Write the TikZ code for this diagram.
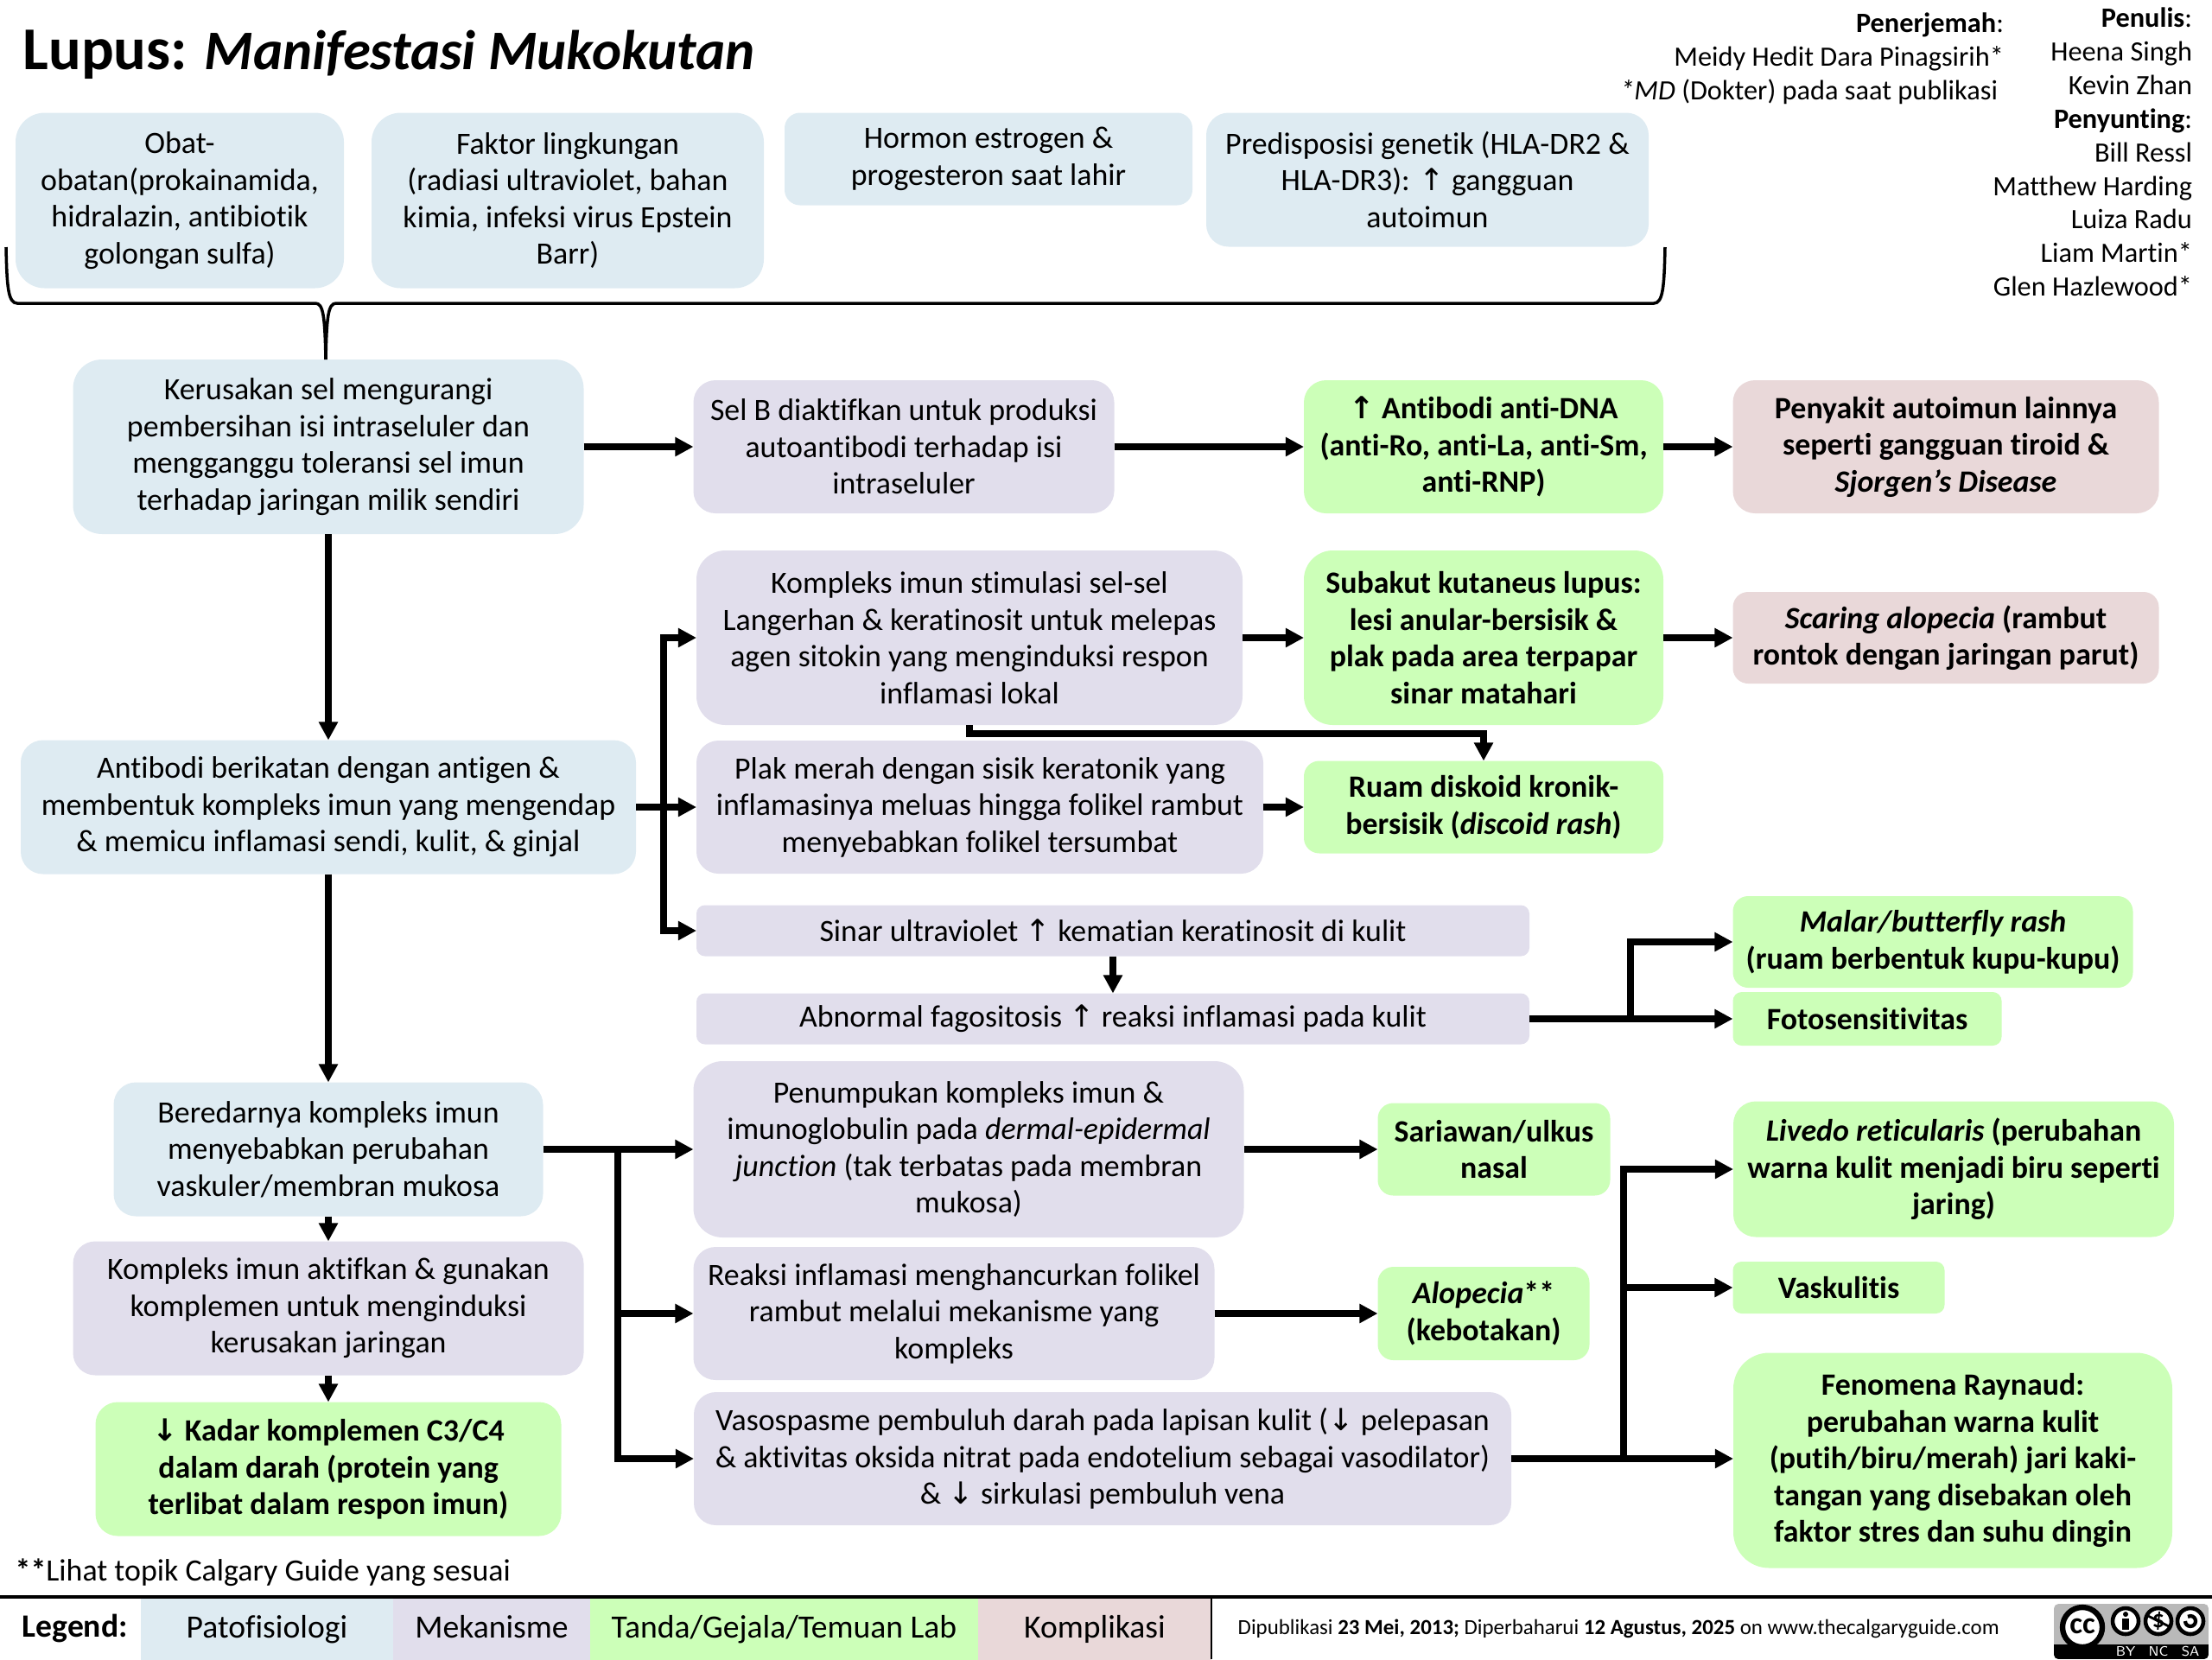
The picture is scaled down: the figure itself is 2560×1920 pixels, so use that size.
\documentclass[tikz,border=0pt]{standalone}
\usepackage{fontspec}
\setmainfont{Carlito}[Ligatures=NoCommon]
\newfontfamily\arrowfont{DejaVu Sans}
\usetikzlibrary{arrows.meta}
\definecolor{patho}{HTML}{DEEBF2}
\definecolor{mech}{HTML}{E1DEEC}
\definecolor{sign}{HTML}{CCFFB8}
\definecolor{comp}{HTML}{E9D8D9}
\newcommand{\arrup}{{\arrowfont\fontsize{10}{12}\selectfont ↑}}
\newcommand{\arrdown}{{\arrowfont\fontsize{10}{12}\selectfont ↓}}
\tikzset{
  sized/.style 2 args={minimum width=#1*0.01cm,minimum height=#2*0.01cm,rounded corners=#2*0.001667cm},
  txt/.style={inner sep=0pt,outer sep=0pt,align=center,font=\fontsize{10.2}{12.1}\selectfont},
  pat/.style={txt,fill=patho},
  mek/.style={txt,fill=mech},
  tnd/.style={txt,fill=sign,font=\fontsize{10.2}{12.1}\selectfont\bfseries},
  kom/.style={txt,fill=comp,font=\fontsize{10.2}{12.1}\selectfont\bfseries},
  leg/.style={txt,text height=8pt,text depth=2.6pt,font=\fontsize{10.7}{13}\selectfont},
  arr/.style={line width=2.2pt,-{Triangle[length=6pt,width=6pt]}},
  crew/.style={inner sep=0pt,outer sep=0pt,align=right,font=\fontsize{9.2}{11.05}\selectfont},
}
\begin{document}
\begin{tikzpicture}[x=0.01cm,y=-0.01cm]
\useasboundingbox (0,0) rectangle (2560,1920);
\node[inner sep=0pt,anchor=base west,font=\fontsize{18.4}{20}\selectfont\bfseries] (title) at (26,80) {{\fontsize{20}{20}\selectfont Lupus:} \textit{Manifestasi Mukokutan}};
\node[crew,anchor=north east] (translator) at (2319,15) {\textbf{Penerjemah}:\\Meidy Hedit Dara Pinagsirih*\\\textit{*MD} (Dokter) pada saat publikasi\kern 2pt};
\node[crew,anchor=north east] (authors) at (2537,9) {\textbf{Penulis}:\\Heena Singh\\Kevin Zhan\\\textbf{Penyunting}:\\Bill Ressl\\Matthew Harding\\Luiza Radu\\Liam Martin*\\Glen Hazlewood*};
% causes
\node[pat,sized={380}{203}] (obat) at (208,232) {Obat-\\obatan(prokainamida,\\hidralazin, antibiotik\\golongan sulfa)};
\node[pat,sized={454}{203}] (faktor) at (657,232) {Faktor lingkungan\\(radiasi ultraviolet, bahan\\kimia, infeksi virus Epstein\\Barr)};
\node[pat,sized={472}{107}] (hormon) at (1144,184) {Hormon estrogen \&\\progesteron saat lahir};
\node[pat,sized={512}{155}] (predis) at (1652,208) {Predisposisi genetik (HLA-DR2 \&\\HLA-DR3): \arrup{} gangguan\\autoimun};
% left column
\node[pat,sized={591}{202}] (kerusakan) at (380,517) {Kerusakan sel mengurangi\\pembersihan isi intraseluler dan\\mengganggu toleransi sel imun\\terhadap jaringan milik sendiri};
\node[pat,sized={712}{155}] (berikatan) at (380,934) {Antibodi berikatan dengan antigen \&\\membentuk kompleks imun yang mengendap\\\& memicu inflamasi sendi, kulit, \& ginjal};
\node[pat,sized={497}{155}] (beredar) at (380,1330) {Beredarnya kompleks imun\\menyebabkan perubahan\\vaskuler/membran mukosa};
\node[mek,sized={591}{155}] (aktif) at (380,1514) {Kompleks imun aktifkan \& gunakan\\komplemen untuk menginduksi\\kerusakan jaringan};
\node[tnd,sized={539}{155}] (kadar) at (380,1700) {\arrdown{} Kadar komplemen C3/C4\\dalam darah (protein yang\\terlibat dalam respon imun)};
% mechanisms
\node[mek,sized={487}{154}] (selb) at (1046,517) {Sel B diaktifkan untuk produksi\\autoantibodi terhadap isi\\intraseluler};
\node[mek,sized={632}{202}] (kompleks) at (1122,738) {Kompleks imun stimulasi sel-sel\\Langerhan \& keratinosit untuk melepas\\agen sitokin yang menginduksi respon\\inflamasi lokal};
\node[mek,sized={656}{154}] (plak) at (1134,934) {Plak merah dengan sisik keratonik yang\\inflamasinya meluas hingga folikel rambut\\menyebabkan folikel tersumbat};
\node[mek,sized={964}{59}] (sinar) at (1288,1077) {Sinar ultraviolet \arrup{} kematian keratinosit di kulit};
\node[mek,sized={964}{59}] (abnormal) at (1288,1179) {Abnormal fagositosis \arrup{} reaksi inflamasi pada kulit};
\node[mek,sized={637}{204}] (penumpukan) at (1121,1330) {Penumpukan kompleks imun \&\\imunoglobulin pada \textit{dermal-epidermal}\\\textit{junction} (tak terbatas pada membran\\mukosa)};
\node[mek,sized={603}{154}] (reaksi) at (1104,1520) {Reaksi inflamasi menghancurkan folikel\\rambut melalui mekanisme yang\\kompleks};
\node[mek,sized={946}{154}] (vaso) at (1276,1688) {Vasospasme pembuluh darah pada lapisan kulit (\arrdown{} pelepasan\\\& aktivitas oksida nitrat pada endotelium sebagai vasodilator)\\\& \arrdown{} sirkulasi pembuluh vena};
% signs
\node[tnd,sized={416}{154}] (antidna) at (1717,517) {\arrup{} Antibodi anti-DNA\\(anti-Ro, anti-La, anti-Sm,\\anti-RNP)};
\node[tnd,sized={416}{202}] (subakut) at (1717,738) {Subakut kutaneus lupus:\\lesi anular-bersisik \&\\plak pada area terpapar\\sinar matahari};
\node[tnd,sized={416}{107}] (ruam) at (1717,934) {Ruam diskoid kronik-\\bersisik (\textit{discoid rash})};
\node[tnd,sized={269}{107}] (sariawan) at (1729,1330) {Sariawan/ulkus\\nasal};
\node[tnd,sized={245}{108}] (alopecia) at (1717,1520) {\textit{Alopecia}**\\(kebotakan)};
\node[tnd,sized={463}{106}] (malar) at (2237,1090) {\textit{Malar/butterfly rash}\\(ruam berbentuk kupu-kupu)};
\node[tnd,sized={311}{62}] (foto) at (2161,1179) {Fotosensitivitas};
\node[tnd,sized={510}{157}] (livedo) at (2261,1353) {\textit{Livedo reticularis} (perubahan\\warna kulit menjadi biru seperti\\jaring)};
\node[tnd,sized={245}{60}] (vaskulitis) at (2128,1490) {Vaskulitis};
\node[tnd,sized={508}{249}] (fenomena) at (2260,1690) {Fenomena Raynaud:\\perubahan warna kulit\\(putih/biru/merah) jari kaki-\\tangan yang disebakan oleh\\faktor stres dan suhu dingin};
% complications
\node[kom,sized={493}{154}] (penyakit) at (2252,517) {Penyakit autoimun lainnya\\seperti gangguan tiroid \&\\\textit{Sjorgen’s Disease}};
\node[kom,sized={493}{106}] (scaring) at (2252,738) {\textit{Scaring alopecia} (rambut\\rontok dengan jaringan parut)};
\coordinate (jA) at (768,934);
\coordinate (jB) at (1887,1179);
\coordinate (jC) at (1879,1688);
\coordinate (jD) at (715,1330);
\coordinate (braceTip) at (377,416);
% brace
\draw[line width=1pt] (7,286) .. controls (8,330) and (9,351) .. (20,351) -- (365,351) .. controls (374,351) and (376,365) .. (braceTip) .. controls (378,365) and (380,351) .. (389,351) -- (1914,351) .. controls (1925,351) and (1926,330) .. (1927,286);
% connectors
\draw[arr] (kerusakan.east) -- (selb.west);
\draw[arr] (selb.east) -- (antidna.west);
\draw[arr] (antidna.east) -- (penyakit.west);
\draw[arr] (kerusakan.south) -- (berikatan.north);
\draw[arr] (berikatan.south) -- (beredar.north);
\draw[arr] (beredar.south) -- (aktif.north);
\draw[arr] (aktif.south) -- (kadar.north);
\draw[arr] (berikatan.east) -- (plak.west);
\draw[arr] (jA) |- (kompleks.west);
\draw[arr] (jA) |- (sinar.west);
\draw[arr] (kompleks.east) -- (subakut.west);
\draw[arr] (subakut.east) -- (scaring.west);
\draw[arr] (kompleks.south) -- ++(0,10) -| (ruam.north);
\draw[arr] (plak.east) -- (ruam.west);
\draw[arr] (sinar.south) -- (abnormal.north);
\draw[arr] (abnormal.east) -- (foto.west);
\draw[arr] (jB) |- (malar.west);
\draw[arr] (beredar.east) -- (penumpukan.west);
\draw[arr] (jD) |- (vaso.west);
\draw[arr] (jD |- reaksi.west) -- (reaksi.west);
\draw[arr] (penumpukan.east) -- (sariawan.west);
\draw[arr] (reaksi.east) -- (alopecia.west);
\draw[arr] (vaso.east) -- (vaso.east -| fenomena.west);
\draw[arr] (jC) |- (livedo.west);
\draw[arr] (jC |- vaskulitis.west) -- (vaskulitis.west);
% footer
\node[inner sep=0pt,anchor=west,font=\fontsize{10.2}{12}\selectfont] (note) at (17,1820) {\textbf{**}Lihat topik Calgary Guide yang sesuai};
\node[inner sep=0pt,anchor=west,font=\fontsize{10.7}{13}\selectfont\bfseries] (legend) at (25,1884) {Legend:};
\node[leg,sized={292}{71},sharp corners,fill=patho] (lgPat) at (309,1885.5) {Patofisiologi};
\node[leg,sized={228}{71},sharp corners,fill=mech] (lgMek) at (569,1885.5) {Mekanisme};
\node[leg,sized={449}{71},sharp corners,fill=sign] (lgTnd) at (907.5,1885.5) {Tanda/Gejala/Temuan Lab};
\node[leg,sized={270}{71},sharp corners,fill=comp] (lgKom) at (1267,1885.5) {Komplikasi};
\draw[line width=1.3pt] (0,1848) -- (2560,1848);
\draw[line width=.8pt] (1402,1848) -- (1402,1920);
\node[inner sep=0pt,anchor=west,font=\fontsize{7.08}{9}\selectfont] (pub) at (1432,1885) {Dipublikasi \textbf{23 Mei, 2013;} Diperbaharui \textbf{12 Agustus, 2025} on www.thecalgaryguide.com};
% licence badge
\begin{scope}
\clip[rounded corners=1.5pt] (2377,1856) rectangle (2556,1920);
\fill[gray!55] (2377,1856) rectangle (2556,1920);
\fill[black] (2377,1903) rectangle (2556,1920);
\end{scope}
\draw[fill=white,line width=1.8pt] (2410,1883) circle (23);
\node[inner sep=0pt,font=\fontsize{10}{10}\selectfont\bfseries] (cc) at (2410,1882) {cc};
\foreach \x/\t in {2460/BY,2498/NC,2535/SA} {
  \draw[fill=white,line width=1.3pt] (\x,1876) circle (15);
  \node[inner sep=0pt,text=white,font=\fontsize{4.5}{5}\selectfont\sffamily] at (\x,1911) {\t};
}
\fill (2460,1868) circle (3);
\fill (2456,1873) rectangle (2464,1886);
\node[inner sep=0pt,font=\fontsize{8}{8}\selectfont\bfseries] at (2498,1876) {\$};
\draw[line width=.8pt] (2486,1870) -- (2510,1882);
\draw[line width=1.2pt] (2529,1876) arc (180:-120:6);
\end{tikzpicture}
\end{document}
